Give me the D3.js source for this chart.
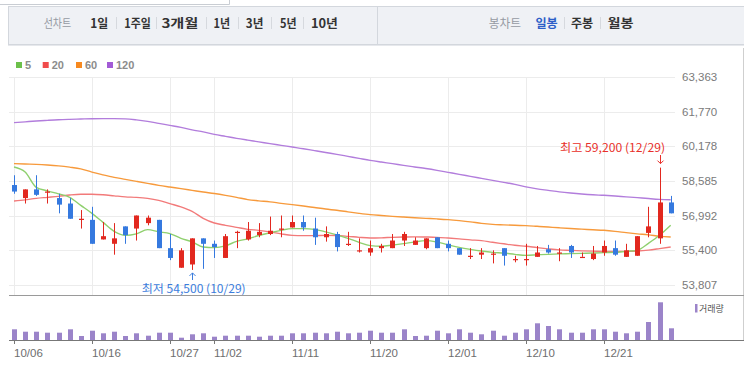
<!DOCTYPE html>
<html>
<head>
<meta charset="utf-8">
<script src="https://cdn.jsdelivr.net/npm/d3@7"></script>
<style>
  body { margin: 0; background: #fff; }
  svg { display: block; }
  text { font-family: "Liberation Sans", Arial, "Noto Sans CJK KR", sans-serif; }
  .kr { font-family: "Noto Sans CJK KR", "Liberation Sans", sans-serif; }
</style>
</head>
<body>
<div id="chart"></div>
<script>

var dates = ["10/06","10/07","10/08","10/12","10/13","10/14","10/15","10/16","10/19","10/20",
             "10/21","10/22","10/23","10/26","10/27","10/28","10/29","10/30","11/02","11/03",
             "11/04","11/05","11/06","11/09","11/10","11/11","11/12","11/13","11/16","11/17",
             "11/18","11/19","11/20","11/23","11/24","11/25","11/26","11/27","11/30","12/01",
             "12/02","12/03","12/04","12/07","12/08","12/09","12/10","12/11","12/14","12/15",
             "12/16","12/17","12/18","12/21","12/22","12/23","12/24","12/28","12/29","12/30"];

var open  = [58400,57800,58200,58050,57800,57550,56800,56800,55900,55700,
             56500,56400,56650,56800,55500,54600,54750,55950,55700,55050,
             56200,55900,56100,56150,56400,56450,56700,56400,56000,56150,
             55700,55400,55300,55500,55500,55850,55650,55500,56000,55700,
             55500,55150,55200,55250,55500,55000,55000,55100,55450,55300,
             55600,55100,55000,55300,55500,55100,55150,56200,55950,57600];
var high  = [58850,58200,58850,58200,58000,57800,57250,57400,56700,56650,
             56500,57000,57000,56800,56150,55500,55950,55950,55850,56150,
             56300,56700,56650,56950,57000,57000,57000,56900,56500,56250,
             56250,55950,55850,55700,56150,56250,56000,55950,56000,55850,
             55500,55500,55500,55400,55500,55150,55700,55600,55650,55500,
             55650,55300,55600,55850,55850,55700,56050,57400,59200,57900];
var low   = [58000,57550,57900,57550,57100,56850,56400,55700,55900,55200,
             55700,55850,56550,55500,54950,54600,54500,54550,55050,55050,
             55500,55850,56000,56100,56000,56450,56300,55650,55800,55350,
             55600,55300,55150,55300,55500,55600,55650,55450,55500,55350,
             55200,55000,55000,54800,54700,54850,54700,55100,55250,54900,
             55050,55100,54950,55150,55150,55100,55150,56000,55700,57100];
var close = [58100,58200,57950,58100,57500,56850,56850,55700,56050,55950,
             56100,57000,56900,55500,55050,55400,55950,55700,55550,56050,
             56250,56300,56250,56300,56400,56700,56450,56000,56150,55550,
             55700,55400,55500,55600,55850,56150,55850,55950,55500,55500,
             55200,55150,55300,55250,55150,55000,55000,55300,55300,55300,
             55300,55100,55250,55600,55200,55400,56050,56500,57600,57100];

var volume = [107,83,83,73,73,107,40,93,67,83,40,67,43,73,73,23,57,67,33,43,
              43,43,33,43,43,67,67,73,67,83,67,73,93,73,73,107,40,43,93,67,
              107,73,57,93,43,73,107,167,140,107,73,73,107,107,83,67,83,180,377,117];

var ma5   = [59227,58997,58294,58133,57996,57835,57467,57100,56686,56273,
             56089,56158,56351,56250,56167,55951,55790,55552,55524,55607,
             55813,55928,56080,56204,56319,56397,56397,56365,56250,56112,
             55951,55768,55616,55584,55639,55708,55790,55846,55781,55653,
             55538,55446,55368,55308,55276,55216,55170,55193,55216,55235,
             55248,55262,55276,55294,55308,55354,55400,55722,56089,56549];
var ma20  = [57665,57720,57789,57835,57881,57940,57973,57973,57950,57904,
             57858,57835,57789,57697,57545,57398,57192,56870,56654,56549,
             56457,56365,56319,56250,56158,56089,56075,56075,56089,56080,
             56043,55997,55965,55974,55997,56011,56020,56011,55997,55965,
             55928,55882,55846,55768,55699,55630,55584,55524,55469,55423,
             55400,55377,55363,55354,55354,55354,55368,55409,55478,55552];
var ma60  = [59383,59365,59351,59323,59282,59222,59144,58993,58868,58754,
             58662,58570,58478,58386,58308,58234,58156,58078,58009,57927,
             57835,57729,57674,57628,57559,57499,57435,57366,57297,57238,
             57169,57100,57040,56999,56962,56930,56898,56870,56843,56810,
             56764,56709,56640,56594,56571,56549,56535,56503,56470,56434,
             56401,56374,56346,56319,56273,56213,56158,56112,56043,56011];
var ma120 = [61266,61303,61340,61372,61400,61418,61432,61446,61450,61450,
             61441,61395,61326,61234,61143,61051,60936,60844,60729,60637,
             60545,60463,60384,60302,60224,60146,60068,59980,59893,59810,
             59718,59626,59535,59457,59383,59305,59231,59158,59075,58983,
             58891,58800,58708,58616,58524,58432,58317,58225,58156,58087,
             58032,57986,57950,57927,57895,57858,57821,57780,57743,57720];

var priceTicks = [53807,55400,56992,58585,60178,61770,63363];
var dateTicks = ["10/06","10/16","10/27","11/02","11/11","11/20","12/01","12/10","12/21"];

var maNames = ["5","20","60","120"];
var maColors = ["#6cc04a","#f04b4b","#f7891f","#a35bd6"];
var maLineColors = ["#8fd06e","#f27a7a","#f79a3c","#b27ddc"];

var W = 744, H = 376;
var svg = d3.select("#chart").append("svg").attr("width", W).attr("height", H);

// toolbar
svg.append("path").attr("d", "M0,4.5H229.5V0").attr("fill", "none").attr("stroke", "#c9cdd3");
svg.append("rect").attr("x", 8.5).attr("y", 6.5).attr("width", 740).attr("height", 38)
   .attr("fill", "#eff1f5").attr("stroke", "#d3d7dd");
svg.append("line").attr("x1", 377.5).attr("x2", 377.5).attr("y1", 7).attr("y2", 44)
   .attr("stroke", "#d3d7dd");
svg.append("line").attr("x1", 8).attr("x2", 744).attr("y1", 45.5).attr("y2", 45.5)
   .attr("stroke", "#e6e8ec");

var tools = [
  {t:"선차트", x:43.7, w:27.5, c:"#959aa3", b:false},
  {t:"1일", x:90.2, w:18, c:"#333", b:true},
  {t:"1주일", x:124.3, w:26.6, c:"#333", b:true},
  {t:"3개월", x:161.4, w:37, c:"#333", b:true},
  {t:"1년", x:213.6, w:16.6, c:"#333", b:true},
  {t:"3년", x:245.8, w:17.6, c:"#333", b:true},
  {t:"5년", x:280, w:16.6, c:"#333", b:true},
  {t:"10년", x:310.9, w:27, c:"#333", b:true},
  {t:"봉차트", x:488.8, w:32.3, c:"#959aa3", b:false},
  {t:"일봉", x:535.4, w:22.3, c:"#2d5fc8", b:true},
  {t:"주봉", x:571, w:22.2, c:"#333", b:true},
  {t:"월봉", x:607.5, w:26, c:"#333", b:true}
];
svg.selectAll(".tool").data(tools).enter().append("text")
   .attr("class", "tool kr")
   .attr("x", function(d){ return d.x; })
   .attr("y", 28)
   .attr("textLength", function(d){ return d.w; })
   .attr("lengthAdjust", "spacingAndGlyphs")
   .attr("font-size", 12.5)
   .attr("font-weight", function(d){ return d.b ? "bold" : "normal"; })
   .attr("fill", function(d){ return d.c; })
   .text(function(d){ return d.t; });

var seps = [116, 156, 206, 238, 271, 303, 564, 600];
svg.selectAll(".sep").data(seps).enter().append("line")
   .attr("x1", function(d){ return d + 0.5; }).attr("x2", function(d){ return d + 0.5; })
   .attr("y1", 17).attr("y2", 29).attr("stroke", "#d6d9de");

// legend
var leg = svg.append("g").selectAll("g").data(maNames).enter().append("g")
   .attr("transform", function(d, i){ return "translate(" + [16, 42.7, 76, 107][i] + ",62)"; });
leg.append("rect").attr("width", 6).attr("height", 6)
   .attr("fill", function(d, i){ return maColors[i]; });
leg.append("text").attr("x", 9).attr("y", 6.5)
   .attr("font-size", 11).attr("font-weight", "bold").attr("fill", "#8c8c8c")
   .text(function(d){ return d; });

// scales
var x = d3.scalePoint().domain(dates).range([14, 670.7]);
var y = d3.scaleLinear().domain([53807, 63363]).range([285, 77]);
var yv = d3.scaleLinear().domain([0, d3.max(volume)]).range([340, 302.3]);

// grid
svg.append("g").selectAll("line").data(priceTicks).enter().append("line")
   .attr("x1", 9).attr("x2", 675)
   .attr("y1", function(d){ return Math.round(y(d)) + 0.5; })
   .attr("y2", function(d){ return Math.round(y(d)) + 0.5; })
   .attr("stroke", "#ececec");
svg.append("g").selectAll("line").data(dateTicks).enter().append("line")
   .attr("x1", function(d){ return Math.round(x(d)) + 0.5; })
   .attr("x2", function(d){ return Math.round(x(d)) + 0.5; })
   .attr("y1", 77).attr("y2", 295)
   .attr("stroke", "#ececec");

svg.append("g").selectAll("text").data(priceTicks).enter().append("text")
   .attr("x", 682).attr("y", function(d){ return y(d) + 4; })
   .attr("font-size", 11.5).attr("fill", "#7a7a7a")
   .text(function(d){ return d3.format(",")(d); });

svg.append("line").attr("x1", 743.5).attr("x2", 743.5).attr("y1", 48).attr("y2", 340)
   .attr("stroke", "#cfcfcf");
svg.append("line").attr("x1", 9).attr("x2", 744).attr("y1", 295.5).attr("y2", 295.5)
   .attr("stroke", "#9a9a9a");

// moving averages
var mas = [ma120, ma60, ma20, ma5];
var maCols = [maLineColors[3], maLineColors[2], maLineColors[1], maLineColors[0]];
var line = d3.line()
   .x(function(d, i){ return x(dates[i]); })
   .y(function(d){ return y(d); })
   .curve(d3.curveMonotoneX);
svg.append("g").selectAll("path").data(mas).enter().append("path")
   .attr("d", line)
   .attr("fill", "none")
   .attr("stroke", function(d, i){ return maCols[i]; })
   .attr("stroke-width", 1.4);

// candles
var candles = dates.map(function(d, i){
  return {date:d, o:open[i], h:high[i], l:low[i], c:close[i]};
});
var upCol = "#e2281f", downCol = "#3579df";
var cg = svg.append("g").selectAll("g").data(candles).enter().append("g");
cg.append("rect")
   .attr("x", function(d){ return Math.round(x(d.date)); })
   .attr("width", 1)
   .attr("y", function(d){ return y(d.h); })
   .attr("height", function(d){ return y(d.l) - y(d.h); })
   .attr("fill", function(d){ return d.c >= d.o ? upCol : downCol; });
cg.append("rect")
   .attr("x", function(d){ return Math.round(x(d.date)) - 2; })
   .attr("width", 5)
   .attr("y", function(d){ return y(Math.max(d.o, d.c)); })
   .attr("height", function(d){ return Math.max(1.2, Math.abs(y(d.o) - y(d.c))); })
   .attr("fill", function(d){ return d.c >= d.o ? upCol : downCol; });

// high / low marks
var hiIdx = d3.maxIndex(high), loIdx = d3.minIndex(low);
var hx = Math.round(x(dates[hiIdx])) + 0.5;
var lx = Math.round(x(dates[loIdx])) + 0.5;
svg.append("text").attr("class", "kr").attr("x", 560).attr("y", 151.8)
   .attr("textLength", 105).attr("lengthAdjust", "spacingAndGlyphs")
   .attr("font-size", 11.5).attr("fill", "#e8302a")
   .text("최고 " + d3.format(",")(high[hiIdx]) + " (" + dates[hiIdx] + ")");
svg.append("path").attr("d", "M" + hx + ",155V" + (y(high[hiIdx]) - 4) + "M" + (hx - 3) + "," + (y(high[hiIdx]) - 7) + "L" + hx + "," + (y(high[hiIdx]) - 4) + "L" + (hx + 3) + "," + (y(high[hiIdx]) - 7))
   .attr("fill", "none").attr("stroke", "#e8302a");
svg.append("text").attr("class", "kr").attr("x", 141.7).attr("y", 293.3)
   .attr("textLength", 104).attr("lengthAdjust", "spacingAndGlyphs")
   .attr("font-size", 11.5).attr("fill", "#3b7ddd")
   .text("최저 " + d3.format(",")(low[loIdx]) + " (" + dates[loIdx] + ")");
svg.append("path").attr("d", "M" + lx + ",280V" + (y(low[loIdx]) + 3) + "M" + (lx - 3) + "," + (y(low[loIdx]) + 6) + "L" + lx + "," + (y(low[loIdx]) + 3) + "L" + (lx + 3) + "," + (y(low[loIdx]) + 6))
   .attr("fill", "none").attr("stroke", "#3b7ddd");

// volume
svg.append("g").selectAll("rect").data(volume).enter().append("rect")
   .attr("x", function(d, i){ return Math.round(x(dates[i])) - 2; })
   .attr("width", 5)
   .attr("y", function(d){ return yv(d); })
   .attr("height", function(d){ return 340 - yv(d); })
   .attr("fill", "#9b84c9");
svg.append("rect").attr("x", 695).attr("y", 304).attr("width", 2.5).attr("height", 8.5).attr("fill", "#9b84c9");
svg.append("text").attr("class", "kr").attr("x", 699).attr("y", 311.5)
   .attr("font-size", 9).attr("fill", "#555").text("거래량");

// x axis
svg.append("line").attr("x1", 9).attr("x2", 744).attr("y1", 340.5).attr("y2", 340.5)
   .attr("stroke", "#777");
var xt = svg.append("g").selectAll("g").data(dateTicks).enter().append("g")
   .attr("transform", function(d){ return "translate(" + (Math.round(x(d)) + 0.5) + ",0)"; });
xt.append("line").attr("y1", 340).attr("y2", 344).attr("stroke", "#777");
xt.append("text").attr("x", -0.5).attr("y", 356.5)
   .attr("font-size", 11.5).attr("fill", "#6e6e6e").text(function(d){ return d; });

</script>
</body>
</html>
